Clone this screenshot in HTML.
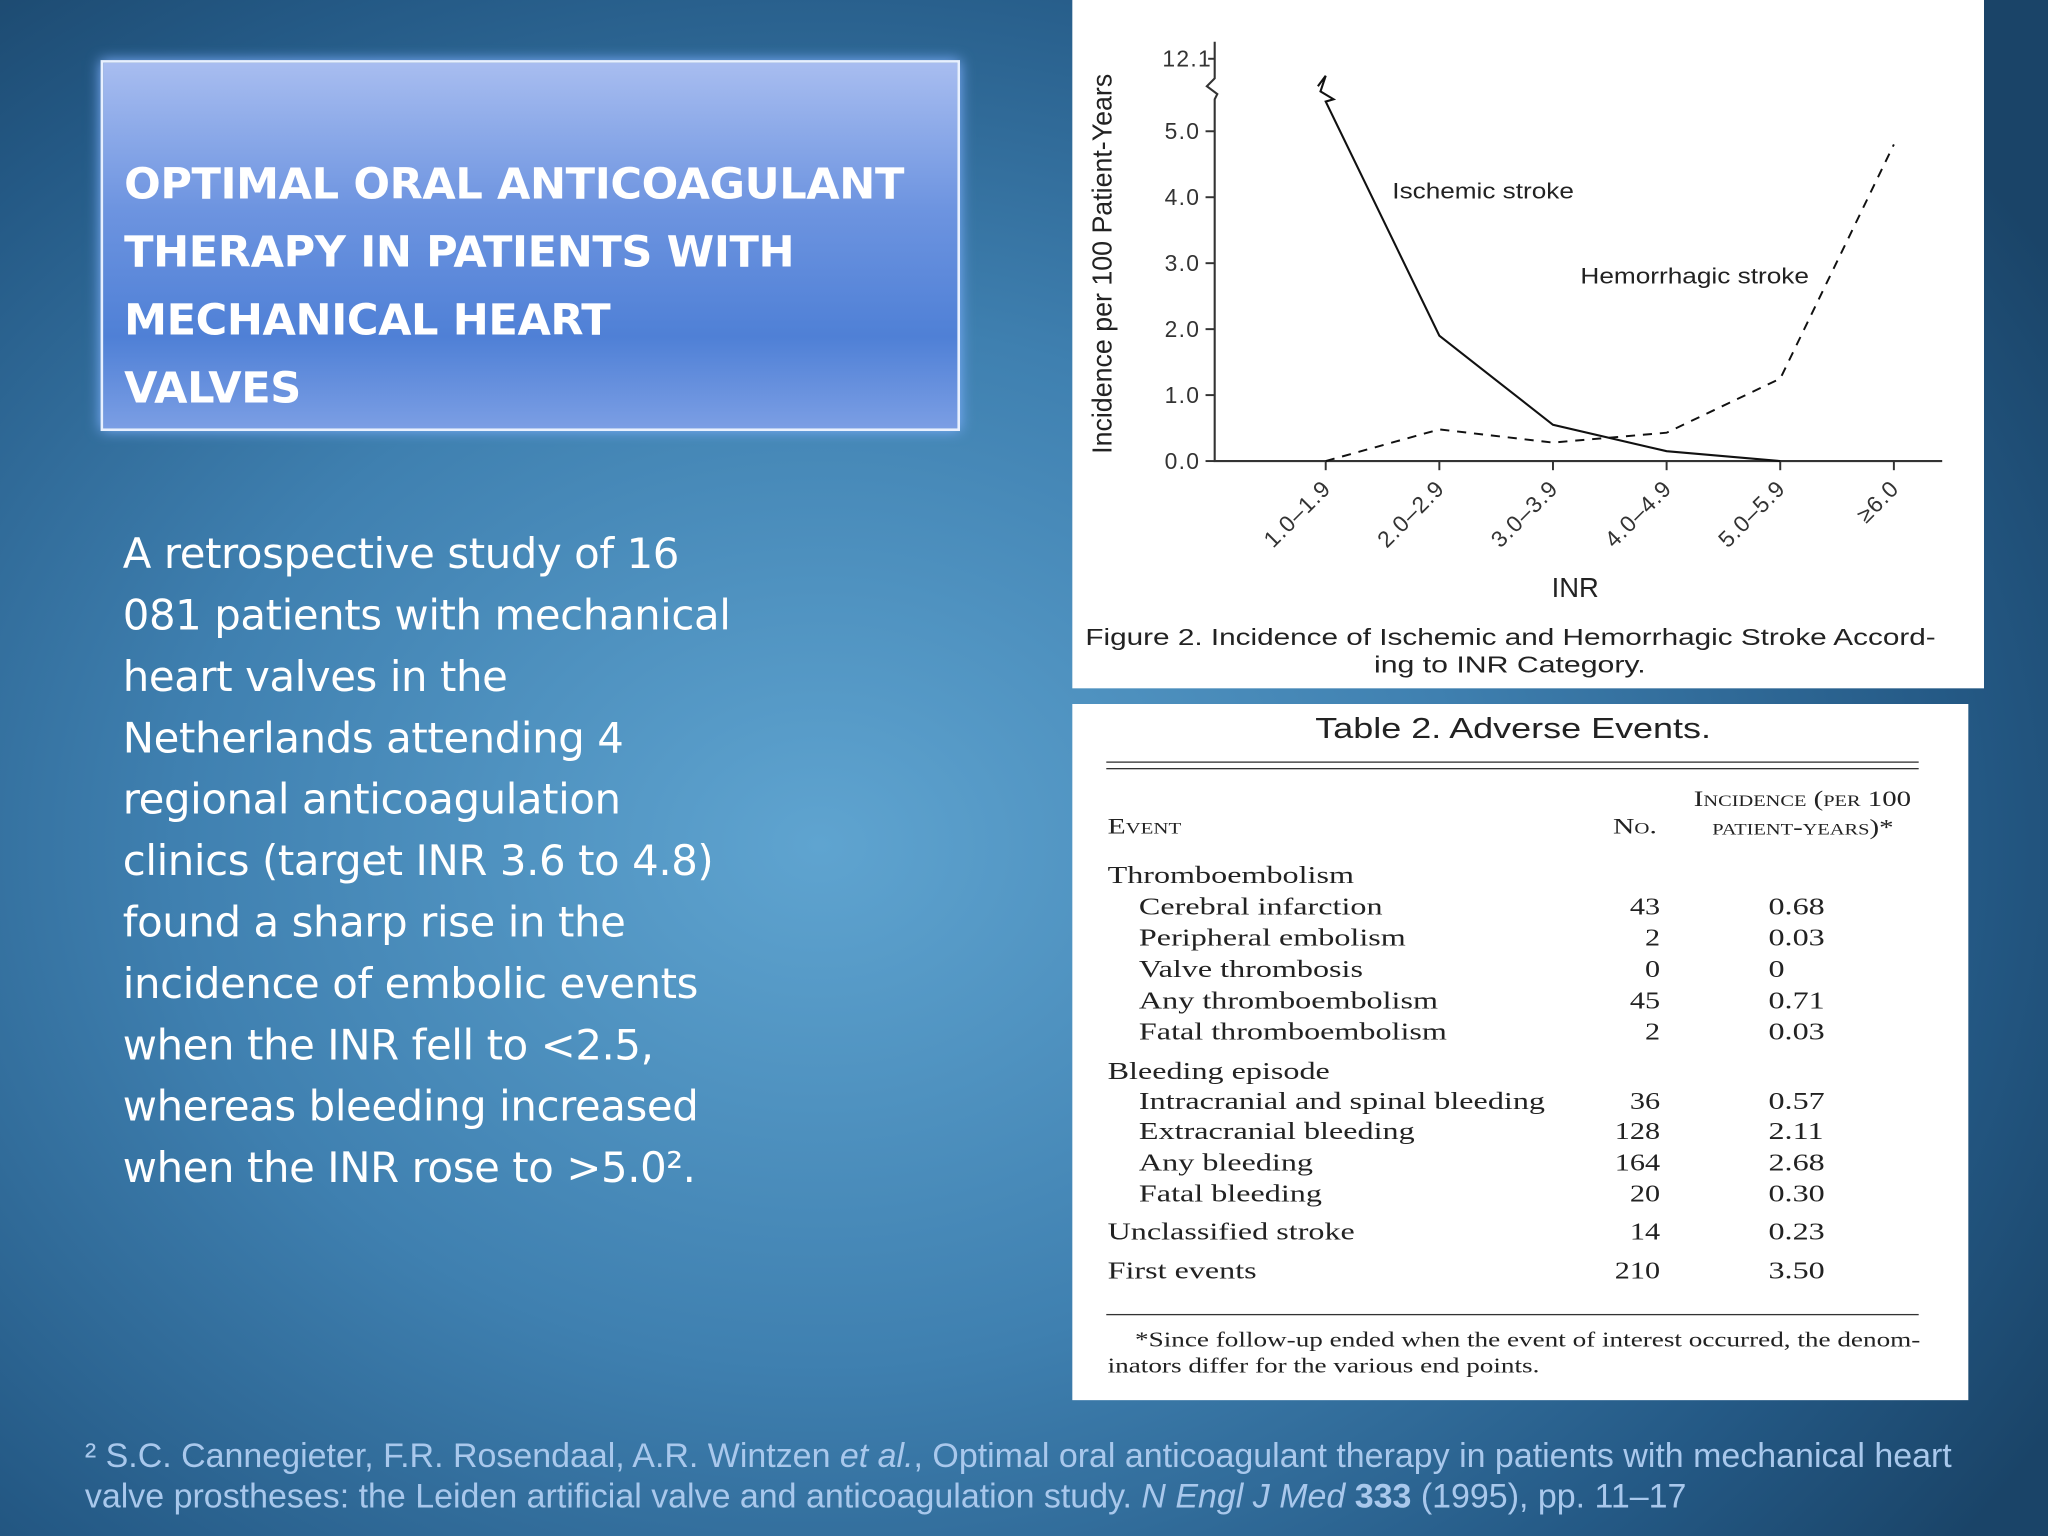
<!DOCTYPE html>
<html><head><meta charset="utf-8"><style>
html,body{margin:0;padding:0;width:2048px;height:1536px;overflow:hidden;}
#stage{position:absolute;left:0;top:0;width:1568px;height:1176px;transform:scale(1.30612);transform-origin:0 0;
background:radial-gradient(ellipse 70% 75% at 40% 55%,#5fa4d0 0%,#3f80b0 45%,#245985 80%,#1a4468 100%);font-family:"Liberation Sans",sans-serif;}
.title{position:absolute;left:77px;top:46px;width:654px;height:280px;border:2px solid #e8f0ff;box-shadow:0 0 10px #7fb0ff;
background:linear-gradient(180deg,#a8bdf0 0%,#6d94e0 40%,#4f80d6 75%,#7b9ee4 100%);}
.title div{position:absolute;left:16px;top:67px;color:#fff;font-family:"DejaVu Sans","Liberation Sans",sans-serif;font-weight:bold;font-size:33px;line-height:52px;white-space:nowrap;letter-spacing:-0.3px;}
.body{position:absolute;left:94px;top:401px;color:#fff;font-family:"DejaVu Sans","Liberation Sans",sans-serif;font-size:32px;line-height:47px;white-space:nowrap;letter-spacing:-0.3px;}
.ref{position:absolute;left:65px;top:1099px;color:#a9c8ec;font-size:26px;line-height:31px;width:1480px;}
.panel{position:absolute;background:#fff;}
.tbl{font-family:"Liberation Serif",serif;font-size:18.5px;color:#222;position:absolute;white-space:nowrap;transform-origin:0 0;}
.sx{transform:scaleX(1.33);}
</style></head><body>
<div id="stage">
<div class="title"><div>OPTIMAL ORAL ANTICOAGULANT<br>THERAPY IN PATIENTS WITH<br>MECHANICAL HEART<br>VALVES</div></div>
<div class="body">A retrospective study of 16<br>081 patients with mechanical<br>heart valves in the<br>Netherlands attending 4<br>regional anticoagulation<br>clinics (target INR 3.6 to 4.8)<br>found a sharp rise in the<br>incidence of embolic events<br>when the INR fell to &lt;2.5,<br>whereas bleeding increased<br>when the INR rose to &gt;5.0².</div>

<div class="panel" style="left:821px;top:0;width:698px;height:527px;">
<svg id="chart" width="698" height="527" style="position:absolute;left:0;top:0"></svg>
</div>

<div class="panel" style="left:821px;top:539px;width:686px;height:533px;">
<svg width="686" height="40" style="position:absolute;left:0;top:0"><text x="186" y="26" font-size="22" fill="#222" textLength="303" lengthAdjust="spacingAndGlyphs">Table 2. Adverse Events.</text></svg>
<div style="position:absolute;left:26px;width:622px;top:44px;border-top:1.5px solid #333"></div>
<div style="position:absolute;left:26px;width:622px;top:49px;border-top:1.5px solid #333"></div>
<div style="position:absolute;left:26px;width:622px;top:467px;border-top:1.5px solid #333"></div>
<div id="rows"></div>
<div class="tbl" style="left:48px;top:479px;font-size:16px;transform:scaleX(1.3)">*Since follow-up ended when the event of interest occurred, the denom-</div>
<div class="tbl" style="left:27px;top:499px;font-size:16px;transform:scaleX(1.3)">inators differ for the various end points.</div>
</div>

<div class="ref">² S.C. Cannegieter, F.R. Rosendaal, A.R. Wintzen <i>et al.</i>, Optimal oral anticoagulant therapy in patients with mechanical heart valve prostheses: the Leiden artificial valve and anticoagulation study. <i>N Engl J Med</i> <b>333</b> (1995), pp. 11–17</div>
</div>
<script>
const categories=["1.0–1.9","2.0–2.9","3.0–3.9","4.0–4.9","5.0–5.9","≥6.0"];
const ischemic=[12.1,1.9,0.55,0.15,0.0,null];
const hemorrhagic=[0.0,0.48,0.28,0.43,1.25,4.8];
const yTicks=[0,1,2,3,4,5];
const NS="http://www.w3.org/2000/svg";
const svg=document.getElementById('chart');
const x0=109,y0=353,pxPerUnit=50.5,xStep=87;
function xs(i){return 194+i*xStep;}
function ys(v){return y0-(v>5.5?5.45:v)*pxPerUnit;}
function el(t,a,txt){const e=document.createElementNS(NS,t);for(const k in a)e.setAttribute(k,a[k]);if(txt!=null)e.textContent=txt;svg.appendChild(e);return e;}
let e;
e=el('path',{d:`M${x0},32 V60 l-6,6 l8,6 l-2,4 V${y0} H666`,fill:'none',stroke:'#333','stroke-width':1.6});


yTicks.forEach(v=>{
 el('line',{x1:x0-7,x2:x0,y1:ys(v),y2:ys(v),stroke:'#333','stroke-width':1.5});
 e=el('text',{x:x0-11,y:ys(v)+6,'text-anchor':'end','font-size':17.5,fill:'#333','letter-spacing':1},v.toFixed(1));
 
 
});
el('line',{x1:x0-5,x2:x0,y1:45,y2:45,stroke:'#333','stroke-width':1.5});
e=el('text',{x:x0-2,y:51,'text-anchor':'end','font-size':17.5,fill:'#333','letter-spacing':1},'12.1');


categories.forEach((c,i)=>{
 el('line',{x1:xs(i),x2:xs(i),y1:y0,y2:y0+7,stroke:'#333','stroke-width':1.5});
 e=el('text',{x:xs(i)+5,y:y0+22,'text-anchor':'end','font-size':17.5,fill:'#333','letter-spacing':0.8,transform:`rotate(-45 ${xs(i)+5} ${y0+22})`},c);
 
 
});
e=el('text',{x:385,y:457,'text-anchor':'middle','font-size':21,fill:'#222'},'INR');


e=el('text',{x:0,y:0,'text-anchor':'middle','font-size':21,fill:'#222',textLength:291,lengthAdjust:'spacingAndGlyphs',transform:'translate(30,202) rotate(-90)'},'Incidence per 100 Patient-Years');


let pts=[];ischemic.forEach((v,i)=>{if(v!=null)pts.push([xs(i),ys(v)]);});
let d='M'+pts.map(p=>p.join(',')).join(' L');
if(ischemic[0]>5.5){d=`M${xs(0)-6},66 l6,-8 l-4,12 l10,6 L`+pts.map(p=>p.join(',')).join(' L');}
e=el('path',{d:d,fill:'none',stroke:'#111','stroke-width':1.6});


e=el('path',{d:'M'+hemorrhagic.map((v,i)=>xs(i)+','+ys(v)).join(' L'),fill:'none',stroke:'#111','stroke-width':1.5,'stroke-dasharray':'7,6'});


e=el('text',{x:245,y:152,'font-size':17,fill:'#222',textLength:139,lengthAdjust:'spacingAndGlyphs'},'Ischemic stroke');


e=el('text',{x:389,y:217,'font-size':17,fill:'#222',textLength:175,lengthAdjust:'spacingAndGlyphs'},'Hemorrhagic stroke');


e=el('text',{x:10,y:494,'font-size':18,fill:'#222',textLength:651,lengthAdjust:'spacingAndGlyphs'},'Figure 2. Incidence of Ischemic and Hemorrhagic Stroke Accord-');


el('text',{x:231,y:515,'font-size':18,fill:'#222',textLength:208,lengthAdjust:'spacingAndGlyphs'},'ing to INR Category.');

const rowsData=[["Thromboembolism","","",0,136],["Cerebral infarction","43","0.68",1,160],["Peripheral embolism","2","0.03",1,184],["Valve thrombosis","0","0",1,208],["Any thromboembolism","45","0.71",1,232],["Fatal thromboembolism","2","0.03",1,256],["Bleeding episode","","",0,286],["Intracranial and spinal bleeding","36","0.57",1,309],["Extracranial bleeding","128","2.11",1,332],["Any bleeding","164","2.68",1,356],["Fatal bleeding","20","0.30",1,380],["Unclassified stroke","14","0.23",0,409],["First events","210","3.50",0,439]];
const rows=document.getElementById('rows');
let h='<div class="tbl sx" style="left:27px;top:84px;font-variant:small-caps;font-size:17px">Event</div><div class="tbl sx" style="left:414px;top:84px;font-variant:small-caps;font-size:17px">No.</div><div class="tbl" style="left:474px;top:62px;font-variant:small-caps;font-size:17px;text-align:center;line-height:22px;width:170px;"><span style="display:inline-block;transform:scaleX(1.3)">Incidence (per 100</span><br><span style="display:inline-block;transform:scaleX(1.3)">patient-years)*</span></div>';
rowsData.forEach(r=>{h+=`<div class="tbl sx" style="left:${r[3]?51:27}px;top:${r[4]-14}px">${r[0]}</div><div class="tbl" style="left:390px;width:60px;text-align:right;top:${r[4]-14}px;transform:scaleX(1.25);transform-origin:100% 0">${r[1]}</div><div class="tbl sx" style="left:533px;top:${r[4]-14}px">${r[2]}</div>`;});
rows.innerHTML=h;
</script>
</body></html>
